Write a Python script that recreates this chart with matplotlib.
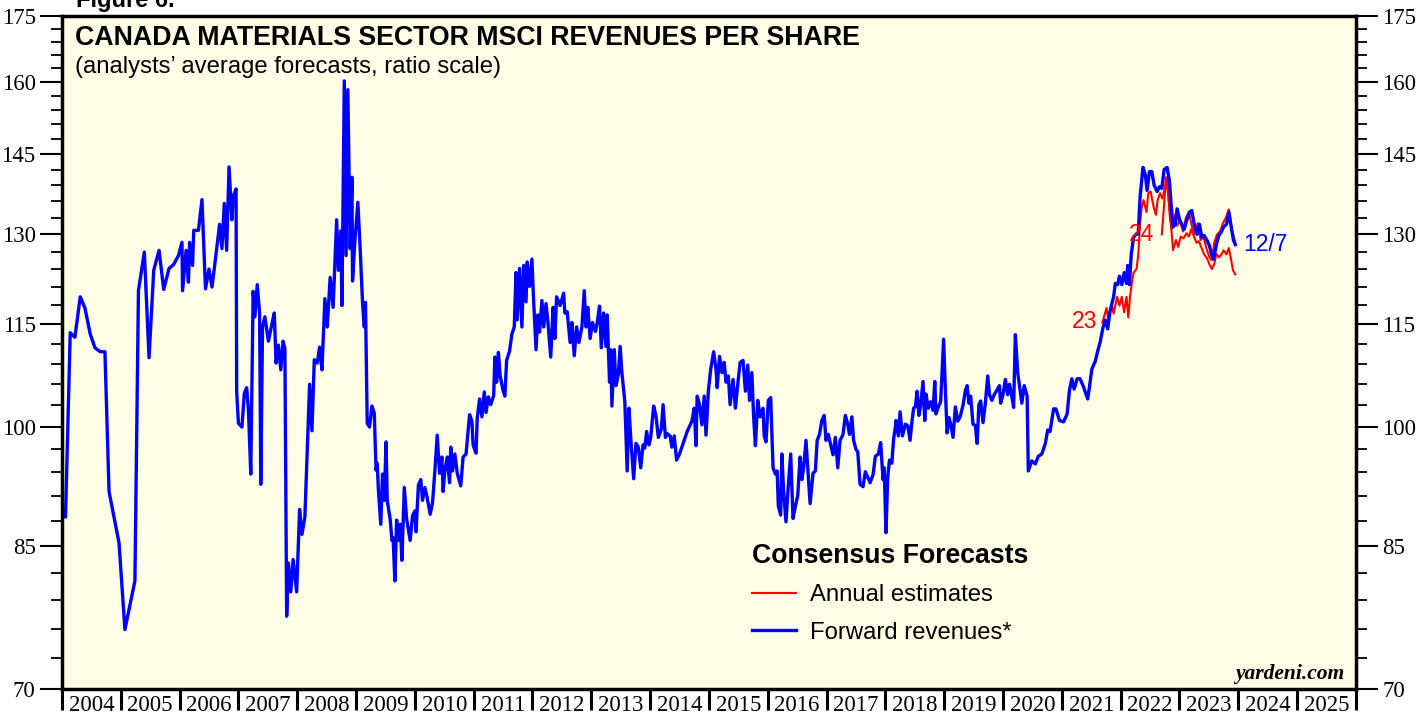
import matplotlib
matplotlib.use("Agg")
import matplotlib.pyplot as plt
from matplotlib.ticker import FixedLocator, NullFormatter, FuncFormatter

# forward revenues (blue), decimal year / value
fwd = [
    (2004.06, 88.5), (2004.14, 113.7), (2004.22, 113.0), (2004.31, 119.4), (2004.39, 117.6),
    (2004.48, 113.5), (2004.56, 111.4), (2004.65, 110.8), (2004.73, 110.8), (2004.80, 91.6),
    (2004.97, 85.4), (2005.07, 75.9), (2005.24, 81.1), (2005.30, 120.4), (2005.40, 126.9),
    (2005.48, 109.9), (2005.56, 123.8), (2005.65, 127.2), (2005.73, 120.6), (2005.82, 124.1),
    (2005.90, 124.8), (2005.98, 126.3), (2006.04, 128.6), (2006.05, 120.4), (2006.11, 127.2),
    (2006.15, 121.8), (2006.17, 128.6), (2006.22, 124.6), (2006.24, 130.7), (2006.32, 130.7),
    (2006.38, 136.3), (2006.44, 120.7), (2006.50, 124.0), (2006.55, 121.0), (2006.59, 124.1),
    (2006.63, 127.5), (2006.68, 131.8), (2006.72, 127.5), (2006.76, 135.6), (2006.80, 127.2),
    (2006.84, 142.5), (2006.89, 132.6), (2006.91, 136.8), (2006.96, 138.3), (2006.97, 105.0),
    (2007.00, 100.5), (2007.06, 100.0), (2007.10, 104.7), (2007.14, 105.5), (2007.17, 102.4),
    (2007.21, 93.8), (2007.25, 120.3), (2007.28, 116.2), (2007.32, 121.4), (2007.36, 116.8),
    (2007.38, 92.5), (2007.41, 114.6), (2007.45, 116.2), (2007.51, 112.4), (2007.57, 115.1),
    (2007.61, 116.8), (2007.64, 109.1), (2007.68, 111.8), (2007.72, 108.1), (2007.76, 112.4),
    (2007.79, 111.3), (2007.82, 77.3), (2007.85, 83.1), (2007.89, 79.9), (2007.93, 83.5),
    (2007.99, 79.9), (2008.04, 89.4), (2008.08, 86.4), (2008.13, 88.5), (2008.21, 106.0),
    (2008.25, 99.5), (2008.29, 109.6), (2008.34, 109.1), (2008.38, 111.5), (2008.42, 108.1),
    (2008.47, 119.1), (2008.51, 114.6), (2008.56, 122.6), (2008.61, 117.7), (2008.67, 132.6),
    (2008.70, 123.8), (2008.74, 130.6), (2008.76, 118.0), (2008.80, 160.2), (2008.83, 126.3),
    (2008.86, 158.3), (2008.90, 127.5), (2008.93, 140.5), (2008.94, 122.0), (2008.98, 128.7),
    (2009.03, 135.8), (2009.07, 127.5), (2009.11, 118.5), (2009.14, 114.6), (2009.16, 118.5),
    (2009.19, 100.5), (2009.23, 100.0), (2009.27, 102.9), (2009.31, 101.9), (2009.34, 94.3),
    (2009.36, 95.2), (2009.38, 91.8), (2009.42, 87.6), (2009.45, 93.8), (2009.48, 90.5),
    (2009.51, 98.0), (2009.53, 90.5), (2009.58, 88.2), (2009.61, 85.7), (2009.63, 86.0),
    (2009.66, 81.1), (2009.69, 88.1), (2009.72, 85.7), (2009.75, 87.6), (2009.78, 83.4),
    (2009.82, 92.1), (2009.86, 88.2), (2009.92, 85.7), (2009.96, 88.6), (2010.00, 89.2),
    (2010.02, 86.7), (2010.06, 92.4), (2010.10, 93.1), (2010.13, 90.5), (2010.17, 92.1),
    (2010.21, 90.8), (2010.26, 88.8), (2010.30, 90.2), (2010.34, 94.2), (2010.38, 98.9),
    (2010.42, 93.9), (2010.46, 96.0), (2010.48, 91.6), (2010.51, 94.2), (2010.55, 96.0),
    (2010.59, 92.7), (2010.61, 97.3), (2010.64, 94.2), (2010.68, 96.4), (2010.72, 93.9),
    (2010.78, 92.3), (2010.82, 96.0), (2010.87, 96.4), (2010.93, 101.7), (2010.97, 100.8),
    (2010.99, 97.6), (2011.04, 96.5), (2011.06, 101.2), (2011.10, 103.9), (2011.14, 101.4),
    (2011.18, 104.9), (2011.21, 102.0), (2011.25, 104.2), (2011.29, 103.1), (2011.34, 104.4),
    (2011.36, 110.0), (2011.39, 106.3), (2011.42, 110.7), (2011.45, 107.2), (2011.50, 105.1),
    (2011.53, 104.3), (2011.56, 109.5), (2011.61, 110.9), (2011.65, 113.5), (2011.69, 114.6),
    (2011.72, 123.4), (2011.74, 115.7), (2011.78, 124.1), (2011.82, 114.6), (2011.85, 124.6),
    (2011.89, 118.6), (2011.91, 125.2), (2011.95, 121.1), (2011.99, 125.7), (2012.02, 118.6),
    (2012.06, 111.1), (2012.09, 116.5), (2012.12, 113.8), (2012.16, 118.8), (2012.19, 114.6),
    (2012.23, 118.3), (2012.26, 115.6), (2012.31, 110.0), (2012.35, 117.7), (2012.38, 112.8),
    (2012.41, 119.4), (2012.47, 118.0), (2012.53, 120.0), (2012.55, 116.8), (2012.59, 117.0),
    (2012.64, 112.2), (2012.67, 115.3), (2012.71, 110.2), (2012.75, 114.6), (2012.79, 112.2),
    (2012.84, 114.6), (2012.88, 120.4), (2012.91, 114.6), (2012.94, 117.7), (2012.98, 112.8),
    (2013.02, 115.3), (2013.07, 113.9), (2013.10, 115.3), (2013.14, 117.9), (2013.17, 111.4),
    (2013.21, 116.8), (2013.25, 111.6), (2013.27, 116.5), (2013.31, 106.3), (2013.33, 111.1),
    (2013.35, 102.9), (2013.39, 111.1), (2013.42, 105.8), (2013.46, 107.4), (2013.49, 111.6),
    (2013.52, 107.7), (2013.57, 103.5), (2013.61, 94.2), (2013.64, 102.6), (2013.67, 98.6),
    (2013.72, 93.2), (2013.76, 97.8), (2013.80, 97.3), (2013.84, 94.6), (2013.88, 97.6),
    (2013.91, 97.2), (2013.94, 99.4), (2013.98, 97.6), (2014.01, 98.6), (2014.06, 102.9),
    (2014.10, 101.5), (2014.14, 98.6), (2014.19, 99.7), (2014.22, 103.1), (2014.26, 98.6),
    (2014.29, 99.1), (2014.34, 98.8), (2014.37, 97.3), (2014.41, 98.8), (2014.45, 95.6),
    (2014.50, 96.4), (2014.57, 98.0), (2014.63, 99.4), (2014.71, 100.8), (2014.75, 102.6),
    (2014.78, 97.5), (2014.80, 104.3), (2014.84, 103.1), (2014.88, 100.3), (2014.92, 104.3),
    (2014.95, 98.9), (2014.99, 105.0), (2015.03, 108.2), (2015.08, 110.8), (2015.12, 108.2),
    (2015.14, 105.5), (2015.18, 110.1), (2015.22, 107.7), (2015.26, 109.2), (2015.29, 106.3),
    (2015.33, 107.2), (2015.36, 103.1), (2015.41, 106.7), (2015.45, 102.6), (2015.49, 106.0),
    (2015.53, 109.2), (2015.58, 109.5), (2015.62, 105.0), (2015.66, 108.8), (2015.69, 103.7),
    (2015.73, 107.7), (2015.76, 101.4), (2015.79, 97.5), (2015.83, 103.7), (2015.87, 101.4),
    (2015.92, 102.6), (2015.94, 98.8), (2015.97, 98.0), (2016.01, 103.7), (2016.05, 104.1),
    (2016.09, 94.6), (2016.13, 93.8), (2016.16, 94.2), (2016.18, 89.8), (2016.22, 88.7),
    (2016.24, 96.4), (2016.27, 91.6), (2016.31, 87.9), (2016.35, 92.4), (2016.39, 96.4),
    (2016.43, 88.3), (2016.47, 89.8), (2016.51, 91.1), (2016.55, 96.0), (2016.58, 93.1),
    (2016.61, 94.6), (2016.65, 98.2), (2016.69, 93.6), (2016.72, 90.1), (2016.77, 93.9),
    (2016.81, 94.2), (2016.84, 98.2), (2016.88, 99.0), (2016.92, 100.9), (2016.96, 101.6),
    (2016.99, 98.2), (2017.03, 99.0), (2017.07, 97.6), (2017.11, 96.3), (2017.15, 98.6),
    (2017.19, 94.6), (2017.23, 98.2), (2017.28, 99.0), (2017.32, 101.6), (2017.36, 100.4),
    (2017.39, 99.0), (2017.43, 101.4), (2017.46, 98.2), (2017.50, 97.0), (2017.53, 96.7),
    (2017.57, 92.5), (2017.62, 92.2), (2017.66, 94.1), (2017.70, 93.4), (2017.74, 92.7),
    (2017.79, 93.7), (2017.83, 96.1), (2017.88, 96.4), (2017.92, 97.9), (2017.96, 93.1),
    (2017.98, 94.6), (2018.01, 86.6), (2018.04, 93.4), (2018.07, 95.6), (2018.11, 95.2),
    (2018.14, 98.4), (2018.17, 100.0), (2018.18, 100.9), (2018.22, 98.8), (2018.25, 102.1),
    (2018.29, 98.8), (2018.34, 100.4), (2018.38, 100.2), (2018.42, 98.2), (2018.45, 100.6),
    (2018.48, 102.6), (2018.51, 102.8), (2018.54, 105.0), (2018.57, 101.6), (2018.60, 103.0),
    (2018.64, 106.4), (2018.67, 100.9), (2018.69, 104.6), (2018.73, 102.6), (2018.77, 103.5),
    (2018.81, 102.3), (2018.84, 106.4), (2018.86, 101.8), (2018.90, 102.8), (2018.94, 103.5),
    (2018.99, 112.7), (2019.02, 105.2), (2019.05, 99.2), (2019.08, 101.3), (2019.11, 100.4),
    (2019.15, 98.6), (2019.19, 102.8), (2019.23, 100.8), (2019.27, 101.4), (2019.32, 103.0),
    (2019.36, 105.1), (2019.39, 105.8), (2019.42, 103.3), (2019.45, 104.3), (2019.49, 100.4),
    (2019.53, 100.2), (2019.56, 97.8), (2019.59, 103.1), (2019.62, 103.6), (2019.66, 100.6),
    (2019.70, 103.3), (2019.74, 107.2), (2019.77, 104.5), (2019.81, 103.7), (2019.85, 104.5),
    (2019.90, 105.2), (2019.94, 105.8), (2019.96, 103.3), (2020.00, 104.5), (2020.04, 106.7),
    (2020.08, 104.5), (2020.11, 106.0), (2020.15, 104.3), (2020.18, 102.7), (2020.21, 113.4),
    (2020.25, 107.7), (2020.28, 105.8), (2020.32, 103.3), (2020.36, 105.8), (2020.41, 104.3),
    (2020.43, 94.2), (2020.49, 95.5), (2020.55, 95.1), (2020.60, 96.1), (2020.66, 96.4),
    (2020.72, 97.8), (2020.76, 99.6), (2020.80, 99.4), (2020.86, 102.5), (2020.90, 102.5),
    (2020.96, 100.9), (2021.03, 100.7), (2021.09, 101.8), (2021.13, 105.1), (2021.17, 106.8),
    (2021.21, 105.3), (2021.26, 106.8), (2021.31, 106.8), (2021.37, 105.6), (2021.44, 103.9),
    (2021.47, 105.6), (2021.51, 108.2), (2021.57, 109.4), (2021.61, 110.9), (2021.65, 112.2),
    (2021.70, 114.5), (2021.74, 115.7), (2021.78, 114.3), (2021.82, 117.1), (2021.88, 119.4),
    (2021.91, 121.6), (2021.95, 121.4), (2021.98, 122.8), (2022.02, 121.4), (2022.06, 123.4),
    (2022.10, 121.6), (2022.12, 124.6), (2022.15, 121.4), (2022.18, 126.5), (2022.22, 129.5),
    (2022.27, 130.1), (2022.30, 130.1), (2022.33, 136.7), (2022.38, 142.4), (2022.42, 141.0),
    (2022.45, 138.0), (2022.49, 141.6), (2022.53, 141.6), (2022.57, 139.0), (2022.62, 137.8),
    (2022.66, 138.7), (2022.70, 138.4), (2022.74, 142.0), (2022.79, 142.4), (2022.83, 139.8),
    (2022.86, 135.2), (2022.89, 131.3), (2022.93, 131.8), (2022.96, 134.6), (2023.00, 132.7),
    (2023.04, 131.8), (2023.08, 130.9), (2023.13, 132.7), (2023.17, 134.0), (2023.21, 134.3),
    (2023.25, 131.8), (2023.30, 130.0), (2023.34, 131.8), (2023.38, 129.5), (2023.42, 129.8),
    (2023.47, 128.9), (2023.51, 128.0), (2023.55, 126.3), (2023.58, 125.7), (2023.63, 128.3),
    (2023.67, 129.8), (2023.71, 130.4), (2023.75, 131.3), (2023.80, 131.8), (2023.84, 134.0),
    (2023.88, 131.3), (2023.92, 128.9), (2023.95, 128.2),
]

# annual estimates (red)
est23 = [
    (2021.69, 115.3), (2021.76, 117.6), (2021.79, 115.9), (2021.85, 118.1), (2021.88, 116.7),
    (2021.94, 119.4), (2021.98, 118.0), (2022.02, 119.4), (2022.06, 116.9), (2022.10, 119.4),
    (2022.13, 116.1), (2022.16, 119.4), (2022.19, 121.6), (2022.22, 123.4), (2022.27, 124.0),
    (2022.30, 126.4), (2022.33, 131.9), (2022.36, 135.0), (2022.39, 136.2), (2022.44, 134.0),
    (2022.47, 137.5), (2022.51, 137.8), (2022.56, 135.0), (2022.60, 133.5), (2022.63, 136.2),
    (2022.67, 137.5), (2022.71, 136.5), (2022.75, 138.4), (2022.79, 140.5), (2022.81, 137.5),
    (2022.84, 133.1), (2022.87, 130.0), (2022.89, 127.2), (2022.94, 129.0), (2022.98, 127.8),
    (2023.02, 129.6), (2023.07, 129.3), (2023.12, 130.2), (2023.16, 129.6), (2023.20, 130.9),
    (2023.24, 129.8), (2023.29, 128.5), (2023.33, 128.8), (2023.38, 127.5), (2023.42, 126.5),
    (2023.47, 125.8), (2023.51, 124.8), (2023.55, 124.0), (2023.59, 124.8), (2023.63, 126.6),
    (2023.67, 126.0), (2023.71, 126.4), (2023.75, 127.2), (2023.80, 126.5), (2023.84, 127.6),
    (2023.88, 125.5), (2023.91, 123.8), (2023.95, 123.1),
]
est24 = [
    (2022.70, 130.0), (2022.73, 134.0), (2022.77, 140.5), (2022.81, 137.0), (2022.84, 133.0),
    (2022.87, 131.0), (2022.92, 133.5), (2022.96, 131.5), (2023.01, 132.5), (2023.06, 130.5),
    (2023.11, 133.0), (2023.16, 134.0), (2023.21, 131.5), (2023.26, 130.0), (2023.31, 132.0),
    (2023.36, 129.0), (2023.41, 129.5), (2023.46, 127.5), (2023.51, 126.0), (2023.55, 125.5),
    (2023.59, 128.5), (2023.64, 130.0), (2023.69, 130.5), (2023.74, 132.0), (2023.79, 133.0),
    (2023.84, 134.5), (2023.89, 131.0), (2023.95, 128.5),
]

years = list(range(2004, 2026))
y_major = [70, 85, 100, 115, 130, 145, 160, 175]
y_minor = [v for v in range(73, 175, 3) if v not in y_major]

fig = plt.figure(figsize=(14.25, 7.19), dpi=100)
ax = fig.add_axes([0.0435, 0.0417, 0.908, 0.936])
ax.set_facecolor("#fefee6")

x, y = zip(*est23)
ax.plot(x, y, color="red", lw=1.5)
x, y = zip(*est24)
ax.plot(x, y, color="red", lw=1.5)
x, y = zip(*fwd)
ax.plot(x, y, color="blue", lw=2.4)

ax.set_yscale("log")
ax.set_ylim(70, 175)
ax.set_xlim(2004, 2026)
ax.yaxis.set_major_locator(FixedLocator(y_major))
ax.yaxis.set_major_formatter(FuncFormatter(lambda v, p: f"{v:g}"))
ax.yaxis.set_minor_locator(FixedLocator(y_minor))
ax.yaxis.set_minor_formatter(NullFormatter())

ax.set_xticks(years + [2026])
ax.set_xticklabels([])
ax.set_xticks([yr + 0.5 for yr in years], minor=True)
ax.set_xticklabels([str(yr) for yr in years], minor=True)

serif = "Liberation Serif"
ax.tick_params(axis="y", which="major", direction="out", length=16, width=1.5,
               left=True, right=True, labelleft=True, labelright=True,
               labelsize=16.5, pad=3)
ax.tick_params(axis="y", which="minor", direction="out", length=8, width=1.3,
               left=True, right=True)
ax.tick_params(axis="x", which="major", direction="out", length=15, width=2.2)
ax.tick_params(axis="x", which="minor", length=0, labelsize=16.5, pad=4.5)
for lab in ax.get_yticklabels() + ax.get_xticklabels(minor=True):
    lab.set_fontfamily(serif)

for s in ax.spines.values():
    s.set_linewidth(2.5)

sans = "Liberation Sans"
ax.text(0.010, 0.967, "CANADA MATERIALS SECTOR MSCI REVENUES PER SHARE",
        transform=ax.transAxes, fontsize=19.3, fontweight="bold", family=sans, va="center")
ax.text(0.010, 0.924, "(analysts\u2019 average forecasts, ratio scale)",
        transform=ax.transAxes, fontsize=17.2, family=sans, va="center")
fig.text(0.053, 1.0, "Figure 6.", fontsize=17, fontweight="bold", family=sans, va="center")

ax.text(2021.60, 115.4, "23", color="red", fontsize=16.5, family=sans, ha="right", va="center")
ax.text(2022.57, 130.0, "24", color="red", fontsize=16.5, family=sans, ha="right", va="center")
ax.text(2024.09, 128.2, "12/7", color="blue", fontsize=16.5, family=sans, ha="left", va="center")

ax.text(0.9915, 0.022, "yardeni.com", transform=ax.transAxes, fontsize=15.5,
        fontweight="bold", fontstyle="italic", family=serif, ha="right", va="center")

h1, = ax.plot([], [], color="red", lw=1.5)
h2, = ax.plot([], [], color="blue", lw=2.4)
leg = ax.legend([h1, h2], ["Annual estimates", "Forward revenues*"],
                title="Consensus Forecasts", loc="upper left",
                bbox_to_anchor=(0.5293, 0.2245), frameon=False, alignment="left",
                prop={"family": sans, "size": 17.2}, handlelength=1.85,
                handletextpad=0.6, labelspacing=0.65, borderpad=0.2, borderaxespad=0)
leg.get_title().set_fontproperties({"family": sans, "size": 19.2, "weight": "bold"})

fig.savefig("out.png", dpi=100)
